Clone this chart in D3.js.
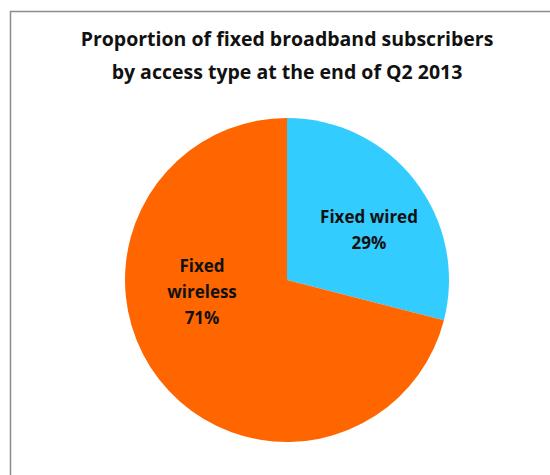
<!DOCTYPE html>
<html>
<head>
<meta charset="utf-8">
<script src="https://cdn.jsdelivr.net/npm/d3@7"></script>
<style>
  body { margin: 0; background: #fff; }
  svg { font-family: "Open Sans", "DejaVu Sans", sans-serif; }
</style>
</head>
<body>
<svg id="chart" width="550" height="475"></svg>
<script>
"use strict"
// Chart data
var titleLines = ["Proportion of fixed broadband subscribers", "by access type at the end of Q2 2013"];
var categories = ["Fixed wired", "Fixed wireless"];
var values = [29, 71];
var labelLines = [["Fixed wired", "29%"], ["Fixed", "wireless", "71%"]];
var colors = ["#33CCFF", "#FF6600"];

var width = 550, height = 475;
var cx = 287, cy = 280, radius = 162;
// where each label block sits relative to the pie centre (x, baseline of middle)
var labelPos = [[82, -44], [-85, 18]];
var lineGap = 26;

var svg = d3.select("#chart");

// chart area border (only top + left visible in the crop)
svg.append("path")
    .attr("d", "M10.5," + height + "V11.5H" + width)
    .attr("fill", "none")
    .attr("stroke", "#8c8c8c")
    .attr("stroke-width", 1.5);

// Title
svg.append("g").selectAll("text")
    .data(titleLines)
    .enter().append("text")
    .attr("x", cx)
    .attr("y", function(d, i) { return 46 + i * 33 })
    .attr("text-anchor", "middle")
    .attr("font-size", 19.5)
    .attr("font-weight", "bold")
    .attr("fill", "#111")
    .text(function(d) { return d });

var pie = d3.pie().sort(null).value(function(d) { return d.value });
var arc = d3.arc().innerRadius(0).outerRadius(radius);

var data = categories.map(function(c, i) {
    return {name: c, value: values[i], color: colors[i], lines: labelLines[i], pos: labelPos[i]};
});

var g = svg.append("g").attr("transform", "translate(" + cx + "," + cy + ")");

g.selectAll("path.slice")
    .data(pie(data))
    .enter().append("path")
    .attr("class", "slice")
    .attr("d", arc)
    .attr("fill", function(d) { return d.data.color });

g.selectAll("text.label")
    .data(pie(data))
    .enter().append("text")
    .attr("class", "label")
    .attr("text-anchor", "middle")
    .attr("font-size", 17)
    .attr("font-weight", "bold")
    .attr("fill", "#111")
    .each(function(d) {
        var p = d.data.pos;
        var n = d.data.lines.length;
        var t = d3.select(this);
        d.data.lines.forEach(function(line, i) {
            t.append("tspan")
                .attr("x", p[0])
                .attr("y", p[1] + (i - (n - 1) / 2) * lineGap)
                .text(line);
        });
    });
</script>
</body>
</html>
